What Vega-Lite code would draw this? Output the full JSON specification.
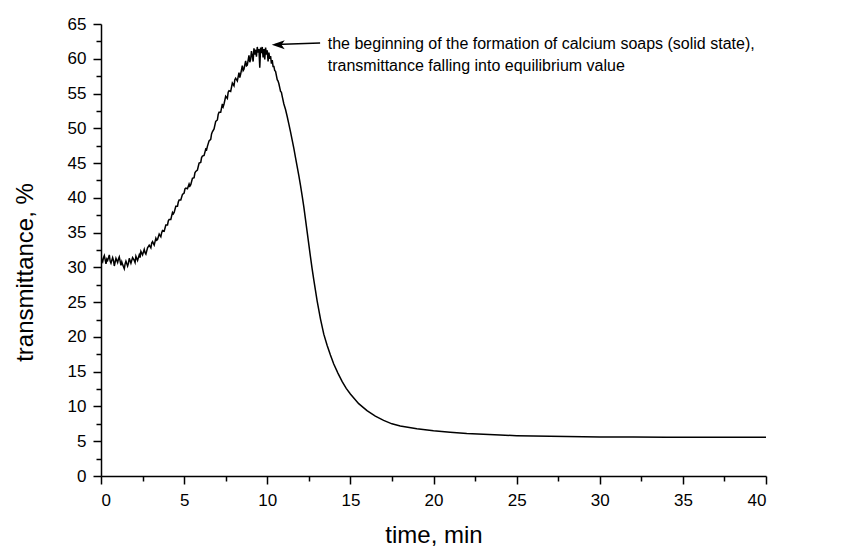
{
  "$schema": "https://vega.github.io/schema/vega-lite/v6.json",
  "width": 665,
  "height": 452,
  "autosize": {"type": "none"},
  "padding": {"left": 101, "top": 24, "right": 86, "bottom": 71},
  "background": "white",
  "config": {
    "font": "Liberation Sans",
    "view": {"stroke": null},
    "axis": {
      "domainColor": "black",
      "tickColor": "black",
      "labelColor": "black",
      "titleColor": "black",
      "domainWidth": 1.5,
      "tickWidth": 1.5,
      "grid": false,
      "labelFont": "Liberation Sans",
      "titleFont": "Liberation Sans",
      "labelFontSize": 17,
      "titleFontSize": 24,
      "titleFontWeight": "normal"
    }
  },
  "datasets": {
    "curve": [
      {"t":0.0,"v":31.6},{"t":0.05,"v":31.0},{"t":0.1,"v":30.8},{"t":0.15,"v":31.4},{"t":0.2,"v":31.7},{"t":0.3,"v":30.5},{"t":0.35,"v":31.2},{"t":0.4,"v":31.0},
      {"t":0.5,"v":31.8},{"t":0.55,"v":30.9},{"t":0.6,"v":30.6},{"t":0.7,"v":31.4},{"t":0.75,"v":31.0},{"t":0.8,"v":30.2},{"t":0.9,"v":31.3},
      {"t":1.0,"v":30.7},{"t":1.05,"v":31.2},{"t":1.1,"v":31.5},{"t":1.2,"v":30.3},{"t":1.25,"v":30.8},{"t":1.3,"v":30.4},{"t":1.4,"v":29.8},
      {"t":1.45,"v":30.5},{"t":1.5,"v":30.9},{"t":1.6,"v":30.2},{"t":1.65,"v":30.6},{"t":1.7,"v":31.3},{"t":1.8,"v":30.6},{"t":1.9,"v":31.4},
      {"t":2.0,"v":31.0},{"t":2.05,"v":30.7},{"t":2.1,"v":31.6},{"t":2.2,"v":31.0},{"t":2.3,"v":31.8},{"t":2.35,"v":31.4},{"t":2.4,"v":32.3},
      {"t":2.5,"v":31.8},{"t":2.6,"v":32.6},{"t":2.65,"v":32.1},{"t":2.7,"v":31.9},{"t":2.8,"v":32.8},{"t":2.9,"v":33.2},
      {"t":3.0,"v":32.8},{"t":3.05,"v":33.5},{"t":3.1,"v":33.7},{"t":3.2,"v":33.2},{"t":3.3,"v":34.2},{"t":3.35,"v":33.9},{"t":3.4,"v":34.0},
      {"t":3.5,"v":34.8},{"t":3.6,"v":34.4},{"t":3.65,"v":35.0},{"t":3.7,"v":35.3},{"t":3.8,"v":35.2},{"t":3.9,"v":36.1},
      {"t":4.0,"v":36.1},{"t":4.05,"v":36.7},{"t":4.1,"v":36.9},{"t":4.2,"v":36.9},{"t":4.3,"v":37.9},{"t":4.35,"v":37.7},{"t":4.4,"v":37.9},
      {"t":4.5,"v":38.8},{"t":4.6,"v":38.8},{"t":4.65,"v":39.4},{"t":4.7,"v":39.7},{"t":4.8,"v":39.7},{"t":4.9,"v":40.5},
      {"t":5.0,"v":40.7},{"t":5.05,"v":41.3},{"t":5.1,"v":41.4},{"t":5.2,"v":41.3},{"t":5.3,"v":42.0},{"t":5.35,"v":41.7},{"t":5.4,"v":41.9},
      {"t":5.5,"v":42.8},{"t":5.6,"v":42.9},{"t":5.65,"v":43.6},{"t":5.7,"v":43.8},{"t":5.8,"v":44.0},{"t":5.9,"v":45.0},
      {"t":6.0,"v":45.1},{"t":6.05,"v":45.8},{"t":6.1,"v":46.0},{"t":6.2,"v":46.1},{"t":6.3,"v":47.0},{"t":6.35,"v":46.9},{"t":6.4,"v":47.4},
      {"t":6.5,"v":48.2},{"t":6.6,"v":48.4},{"t":6.65,"v":49.2},{"t":6.7,"v":49.5},{"t":6.8,"v":49.9},{"t":6.9,"v":51.0},
      {"t":7.0,"v":51.2},{"t":7.05,"v":52.0},{"t":7.1,"v":52.3},{"t":7.2,"v":52.3},{"t":7.3,"v":53.5},{"t":7.35,"v":53.1},{"t":7.4,"v":53.5},
      {"t":7.5,"v":54.6},{"t":7.6,"v":54.3},{"t":7.65,"v":55.2},{"t":7.7,"v":55.4},{"t":7.8,"v":55.3},{"t":7.9,"v":56.5},
      {"t":8.0,"v":56.1},{"t":8.05,"v":57.0},{"t":8.1,"v":57.2},{"t":8.2,"v":56.8},{"t":8.3,"v":58.0},{"t":8.35,"v":57.3},{"t":8.4,"v":57.8},
      {"t":8.5,"v":59.0},{"t":8.55,"v":58.3},{"t":8.6,"v":58.5},{"t":8.7,"v":59.7},{"t":8.75,"v":59.0},{"t":8.8,"v":59.1},{"t":8.9,"v":60.5},
      {"t":8.95,"v":59.5},{"t":9.0,"v":59.9},{"t":9.05,"v":61.1},{"t":9.1,"v":60.4},{"t":9.15,"v":59.6},{"t":9.2,"v":61.5},{"t":9.25,"v":60.6},
      {"t":9.3,"v":61.3},{"t":9.35,"v":60.3},{"t":9.4,"v":61.7},{"t":9.45,"v":60.9},{"t":9.5,"v":61.4},{"t":9.55,"v":58.7},{"t":9.6,"v":61.6},
      {"t":9.65,"v":60.8},{"t":9.7,"v":61.7},{"t":9.75,"v":60.2},{"t":9.8,"v":61.4},{"t":9.85,"v":59.9},{"t":9.9,"v":61.6},{"t":9.95,"v":60.6},
      {"t":10.0,"v":61.2},{"t":10.05,"v":59.6},{"t":10.1,"v":60.9},{"t":10.15,"v":60.0},{"t":10.2,"v":60.4},{"t":10.25,"v":59.3},{"t":10.3,"v":59.8},
      {"t":10.35,"v":58.9},{"t":10.4,"v":58.9},{"t":10.45,"v":58.3},{"t":10.5,"v":58.2},{"t":10.6,"v":57.0},{"t":10.65,"v":56.8},{"t":10.7,"v":56.4},
      {"t":10.8,"v":55.3},{"t":10.85,"v":55.2},{"t":10.9,"v":54.6},
      {"t":11.0,"v":53.5},{"t":11.1,"v":52.7},{"t":11.2,"v":51.7},{"t":11.3,"v":50.6},{"t":11.4,"v":49.5},
      {"t":11.5,"v":48.3},{"t":11.6,"v":47.1},{"t":11.7,"v":45.8},{"t":11.8,"v":44.5},{"t":11.9,"v":43.2},
      {"t":12.0,"v":41.8},{"t":12.1,"v":40.3},{"t":12.2,"v":38.7},{"t":12.3,"v":36.9},{"t":12.4,"v":35.1},
      {"t":12.5,"v":33.3},{"t":12.6,"v":31.5},{"t":12.7,"v":29.8},{"t":12.8,"v":28.2},{"t":12.9,"v":26.7},
      {"t":13.0,"v":25.2},{"t":13.2,"v":22.6},{"t":13.4,"v":20.4},{"t":13.6,"v":18.8},{"t":13.8,"v":17.4},
      {"t":14.0,"v":16.1},{"t":14.25,"v":14.8},{"t":14.5,"v":13.6},{"t":14.75,"v":12.6},{"t":15.0,"v":11.8},
      {"t":15.5,"v":10.4},{"t":16.0,"v":9.4},{"t":16.5,"v":8.6},{"t":17.0,"v":8.0},{"t":17.5,"v":7.5},
      {"t":18.0,"v":7.2},{"t":19.0,"v":6.8},{"t":20.0,"v":6.5},{"t":21.0,"v":6.3},{"t":22.0,"v":6.1},
      {"t":23.0,"v":6.0},{"t":24.0,"v":5.9},{"t":25.0,"v":5.8},{"t":26.0,"v":5.75},{"t":27.0,"v":5.7},
      {"t":28.0,"v":5.67},{"t":29.0,"v":5.64},{"t":30.0,"v":5.62},{"t":32.0,"v":5.6},{"t":34.0,"v":5.58},
      {"t":36.0,"v":5.57},{"t":38.0,"v":5.57},{"t":40.0,"v":5.58}
    ],
    "arrow": [{"x": 13.18, "y": 62.27, "x2": 10.5, "y2": 62.05, "tx": 10.27, "ty": 62.02}],
    "note": [{"x": 13.64, "y": 61.4, "label": "the beginning of the formation of calcium soaps (solid state),\ntransmittance falling into equilibrium value"}]
  },
  "layer": [
    {
      "data": {"name": "curve"},
      "mark": {"type": "line", "color": "black", "strokeWidth": 1.5, "clip": true},
      "encoding": {
        "x": {
          "field": "t", "type": "quantitative",
          "scale": {"domain": [0, 40], "nice": false, "zero": false},
          "axis": {
            "orient": "bottom",
            "values": [0, 5, 10, 15, 20, 25, 30, 35, 40],
            "tickSize": 8, "labelPadding": 8,
            "title": "time, min",
            "titleBaseline": "alphabetic", "titleY": 66
          }
        },
        "y": {
          "field": "v", "type": "quantitative",
          "scale": {"domain": [0, 65], "nice": false, "zero": false},
          "axis": {
            "orient": "left",
            "values": [0, 5, 10, 15, 20, 25, 30, 35, 40, 45, 50, 55, 60, 65],
            "tickSize": 8, "labelPadding": 7,
            "title": "transmittance, %",
            "titleBaseline": "alphabetic", "titleX": -69, "titleY": 248, "titleAlign": "center", "titleAngle": -90
          }
        }
      }
    },
    {
      "data": {"name": "arrow"},
      "mark": {"type": "rule", "color": "black", "strokeWidth": 1.5},
      "encoding": {
        "x": {
          "field": "x", "type": "quantitative",
          "axis": {
            "orient": "bottom",
            "values": [2.5, 7.5, 12.5, 17.5, 22.5, 27.5, 32.5, 37.5],
            "labels": false, "domain": false, "title": null, "tickSize": 5
          }
        },
        "y": {
          "field": "y", "type": "quantitative",
          "axis": {
            "orient": "left",
            "values": [2.5, 7.5, 12.5, 17.5, 22.5, 27.5, 32.5, 37.5, 42.5, 47.5, 52.5, 57.5, 62.5],
            "labels": false, "domain": false, "title": null, "tickSize": 5
          }
        },
        "x2": {"field": "x2"},
        "y2": {"field": "y2"}
      }
    },
    {
      "data": {"name": "arrow"},
      "mark": {"type": "point", "shape": "M0,0L2,-0.7L1.5,0L2,0.7Z", "size": 169, "filled": true, "color": "black", "opacity": 1, "strokeWidth": 0},
      "encoding": {
        "x": {"field": "tx", "type": "quantitative", "axis": null},
        "y": {"field": "ty", "type": "quantitative", "axis": null}
      }
    },
    {
      "data": {"name": "note"},
      "mark": {"type": "text", "align": "left", "baseline": "alphabetic", "fontSize": 16, "lineHeight": 22, "lineBreak": "\n", "color": "black", "font": "Liberation Sans"},
      "encoding": {
        "x": {"field": "x", "type": "quantitative", "axis": null},
        "y": {"field": "y", "type": "quantitative", "axis": null},
        "text": {"field": "label"}
      }
    }
  ],
  "resolve": {"axis": {"x": "independent", "y": "independent"}}
}
